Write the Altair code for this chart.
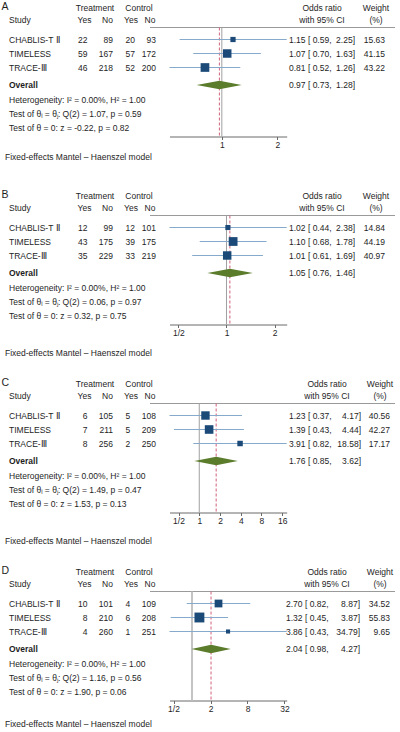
import altair as alt
import pandas as pd

FONT = "Liberation Sans"
TXT = "#1e1e1e"
FS = 8.5

studies = ["CHABLIS-T Ⅱ", "TIMELESS", "TRACE-Ⅲ"]
panel_ids = ["A", "B", "C", "D"]

treat_yes = {"A": [22, 59, 46], "B": [12, 43, 35], "C": [6, 7, 8], "D": [10, 8, 4]}
treat_no = {"A": [89, 167, 218], "B": [99, 175, 229], "C": [105, 211, 256], "D": [101, 210, 260]}
ctrl_yes = {"A": [20, 57, 52], "B": [12, 39, 33], "C": [5, 5, 2], "D": [4, 6, 1]}
ctrl_no = {"A": [93, 172, 200], "B": [101, 175, 219], "C": [108, 209, 250], "D": [109, 208, 251]}

odds = {"A": [1.15, 1.07, 0.81], "B": [1.02, 1.10, 1.01], "C": [1.23, 1.39, 3.91], "D": [2.70, 1.32, 3.86]}
lower = {"A": [0.59, 0.70, 0.52], "B": [0.44, 0.68, 0.61], "C": [0.37, 0.43, 0.82], "D": [0.82, 0.45, 0.43]}
upper = {"A": [2.25, 1.63, 1.26], "B": [2.38, 1.78, 1.69], "C": [4.17, 4.44, 18.58], "D": [8.87, 3.87, 34.79]}
weight = {"A": [15.63, 41.15, 43.22], "B": [14.84, 44.19, 40.97], "C": [40.56, 42.27, 17.17], "D": [34.52, 55.83, 9.65]}

overall_or = {"A": 0.97, "B": 1.05, "C": 1.76, "D": 2.04}
overall_lo = {"A": 0.73, "B": 0.76, "C": 0.85, "D": 0.98}
overall_hi = {"A": 1.28, "B": 1.46, "C": 3.62, "D": 4.27}

i2 = {"A": 0.00, "B": 0.00, "C": 0.00, "D": 0.00}
h2 = {"A": 1.00, "B": 1.00, "C": 1.00, "D": 1.00}
q_stat = {"A": 1.07, "B": 0.06, "C": 1.49, "D": 1.16}
q_p = {"A": 0.59, "B": 0.97, "C": 0.47, "D": 0.56}
z_stat = {"A": -0.22, "B": 0.32, "C": 1.53, "D": 1.90}
z_p = {"A": 0.82, "B": 0.75, "C": 0.13, "D": 0.06}

tick_values = {"A": [1, 2], "B": [0.5, 1, 2], "C": [0.5, 1, 2, 4, 8, 16], "D": [0.5, 2, 8, 32]}

# layout (pixels inside each panel)
PH = 188
ROW0 = 39.5
STEP = 14.0
def r(px):
    return (px - ROW0) / STEP

Y0, Y1 = r(0), r(PH)
yscale = alt.Scale(domain=[Y0, Y1], reverse=True, nice=False, zero=False)

R_LABEL = r(7)
R_H1 = r(8)
R_H2 = r(20)
R_LINE = r(27.5)
R_OVERALL = r(85)
R_HET = [r(99.5), r(113.8), r(128)]
R_AXIS = r(136.5)
note_px = {"A": 157, "B": 165, "C": 165, "D": 160}

right_cols = {
    "A": dict(ci0=289, ci1=355, wt=385, orh=322, wth=376),
    "B": dict(ci0=289, ci1=355, wt=385, orh=322, wth=376),
    "C": dict(ci0=289, ci1=361, wt=390, orh=327, wth=380),
    "D": dict(ci0=286, ci1=360, wt=390, orh=327, wth=380),
}


def y_enc(field="row"):
    return alt.Y(f"{field}:Q", scale=yscale, axis=None)


def text_layer(df, field, x, align="left", bold=False, size=FS):
    return alt.Chart(df).mark_text(
        align=align, baseline="middle", font=FONT, fontSize=size,
        fontWeight="bold" if bold else "normal", color=TXT
    ).encode(x=alt.value(x), y=y_enc(), text=f"{field}:N")


def panel(k):
    n = len(studies)
    df = pd.DataFrame({
        "row": list(range(n)),
        "study": studies,
        "ty": treat_yes[k], "tn": treat_no[k], "cy": ctrl_yes[k], "cn": ctrl_no[k],
        "or": odds[k], "lo": lower[k], "hi": upper[k], "w": weight[k],
    })
    df["ci_l"] = [f"{o:.2f} [ {l:.2f}," for o, l in zip(df["or"], df["lo"])]
    df["ci_r"] = [f"{h:.2f}]" for h in df["hi"]]
    df["wt"] = [f"{w:.2f}" for w in df["w"]]

    ov = pd.DataFrame({
        "row": [R_OVERALL], "lab": ["Overall"],
        "ci_l": [f"{overall_or[k]:.2f} [ {overall_lo[k]:.2f},"],
        "ci_r": [f"{overall_hi[k]:.2f}]"],
    })
    het = pd.DataFrame({
        "row": R_HET,
        "t": [
            f"Heterogeneity: I² = {i2[k]:.2f}%, H² = {h2[k]:.2f}",
            f"Test of θᵢ = θⱼ: Q(2) = {q_stat[k]:.2f}, p = {q_p[k]:.2f}",
            f"Test of θ = 0: z = {z_stat[k]:.2f}, p = {z_p[k]:.2f}",
        ],
    })
    lab = pd.DataFrame({"row": [R_LABEL], "t": [k]})
    h1 = pd.DataFrame({"row": [R_H1], "a": ["Treatment"], "b": ["Control"], "c": ["Odds ratio"], "d": ["Weight"]})
    h2df = pd.DataFrame({"row": [R_H2], "s": ["Study"], "y": ["Yes"], "n": ["No"], "c": ["with 95% CI"], "d": ["(%)"]})
    note = pd.DataFrame({"row": [r(note_px[k])], "t": ["Fixed-effects Mantel – Haenszel model"]})
    line = pd.DataFrame({"row": [R_LINE]})

    xmin = min(lower[k])
    xmax = max(upper[k])
    xscale = alt.Scale(type="log", domain=[xmin, xmax], range=[169.5, 286.7], nice=False, zero=False)
    xaxis = alt.Axis(
        values=tick_values[k], title=None, grid=False, offset=-(PH - 136.5),
        labelExpr="datum.value < 0.9 ? '1/2' : format(datum.value, 'd')",
        tickSize=3, domainColor="#6a6a6a", tickColor="#6a6a6a", domainWidth=1,
        labelFont=FONT, labelFontSize=FS, labelColor=TXT, labelPadding=1,
        labelFlush=False, labelOverlap=False,
    )

    def xf(field):
        return alt.X(f"{field}:Q", scale=xscale, axis=xaxis)

    vlines = pd.DataFrame({"v": [1.0], "y1": [R_LINE], "y2": [R_AXIS]})
    ovline = pd.DataFrame({"v": [overall_or[k]], "y1": [R_LINE], "y2": [R_AXIS]})
    hd = 0.3
    diamond = pd.DataFrame({
        "x": [overall_lo[k], overall_or[k], overall_hi[k]],
        "top": [R_OVERALL, R_OVERALL - hd, R_OVERALL],
        "bot": [R_OVERALL, R_OVERALL + hd, R_OVERALL],
    })

    rc = right_cols[k]
    ref_color = "#c4c4c4" if k == "D" else "#a0a0a0"
    ref_width = 2 if k == "D" else 1
    layers = [
        # header rule
        alt.Chart(line).mark_rule(color="#9a9a9a", strokeWidth=1).encode(
            x=alt.value(150), x2=alt.value(395), y=y_enc()),
        # reference line at 1
        alt.Chart(vlines).mark_rule(color=ref_color, strokeWidth=ref_width).encode(
            x=xf("v"), y=alt.Y("y1:Q", scale=yscale, axis=None), y2="y2:Q"),
        # overall estimate dashed line
        alt.Chart(ovline).mark_rule(color="#d0607a", strokeWidth=1, strokeDash=[3, 2]).encode(
            x=xf("v"), y=alt.Y("y1:Q", scale=yscale, axis=None), y2="y2:Q"),
        # CIs
        alt.Chart(df).mark_rule(color="#86aacb", strokeWidth=1).encode(
            x=xf("lo"), x2="hi:Q", y=y_enc()),
        # squares
        alt.Chart(df).mark_square(filled=True, color="#1c4a78", opacity=1).encode(
            x=xf("or"), y=y_enc(),
            size=alt.Size("w:Q", scale=alt.Scale(domain=[0, 100], range=[0, 175]), legend=None)),
        # diamond
        alt.Chart(diamond).mark_area(color="#5b7c2b", opacity=1).encode(
            x=xf("x"), y=alt.Y("top:Q", scale=yscale, axis=None), y2="bot:Q"),
        # texts
        text_layer(lab, "t", 1.5, size=10.5),
        text_layer(h1, "a", 95, "center"),
        text_layer(h1, "b", 139, "center"),
        text_layer(h1, "c", rc["orh"], "center"),
        text_layer(h1, "d", rc["wth"], "center"),
        text_layer(h2df, "s", 9),
        text_layer(h2df, "y", 84.5, "center"),
        text_layer(h2df, "n", 107.5, "center"),
        text_layer(h2df, "y", 131, "center"),
        text_layer(h2df, "n", 150, "center"),
        text_layer(h2df, "c", rc["orh"], "center"),
        text_layer(h2df, "d", rc["wth"], "center"),
        text_layer(df, "study", 9),
        text_layer(df, "ty", 87.5, "right"),
        text_layer(df, "tn", 113, "right"),
        text_layer(df, "cy", 125.5, "left"),
        text_layer(df, "cn", 156, "right"),
        text_layer(df, "ci_l", rc["ci0"]),
        text_layer(df, "ci_r", rc["ci1"], "right"),
        text_layer(df, "wt", rc["wt"], "right"),
        text_layer(ov, "lab", 9, bold=True),
        text_layer(ov, "ci_l", rc["ci0"]),
        text_layer(ov, "ci_r", rc["ci1"], "right"),
        text_layer(het, "t", 9),
        text_layer(note, "t", 5),
    ]
    return alt.layer(*layers).properties(width=400, height=PH)


chart = alt.vconcat(*[panel(k) for k in panel_ids], spacing=0).properties(
    padding=0
).configure_view(stroke=None).configure_concat(spacing=0)

chart.save("out.html", embed_options={"renderer": "svg", "actions": False})
